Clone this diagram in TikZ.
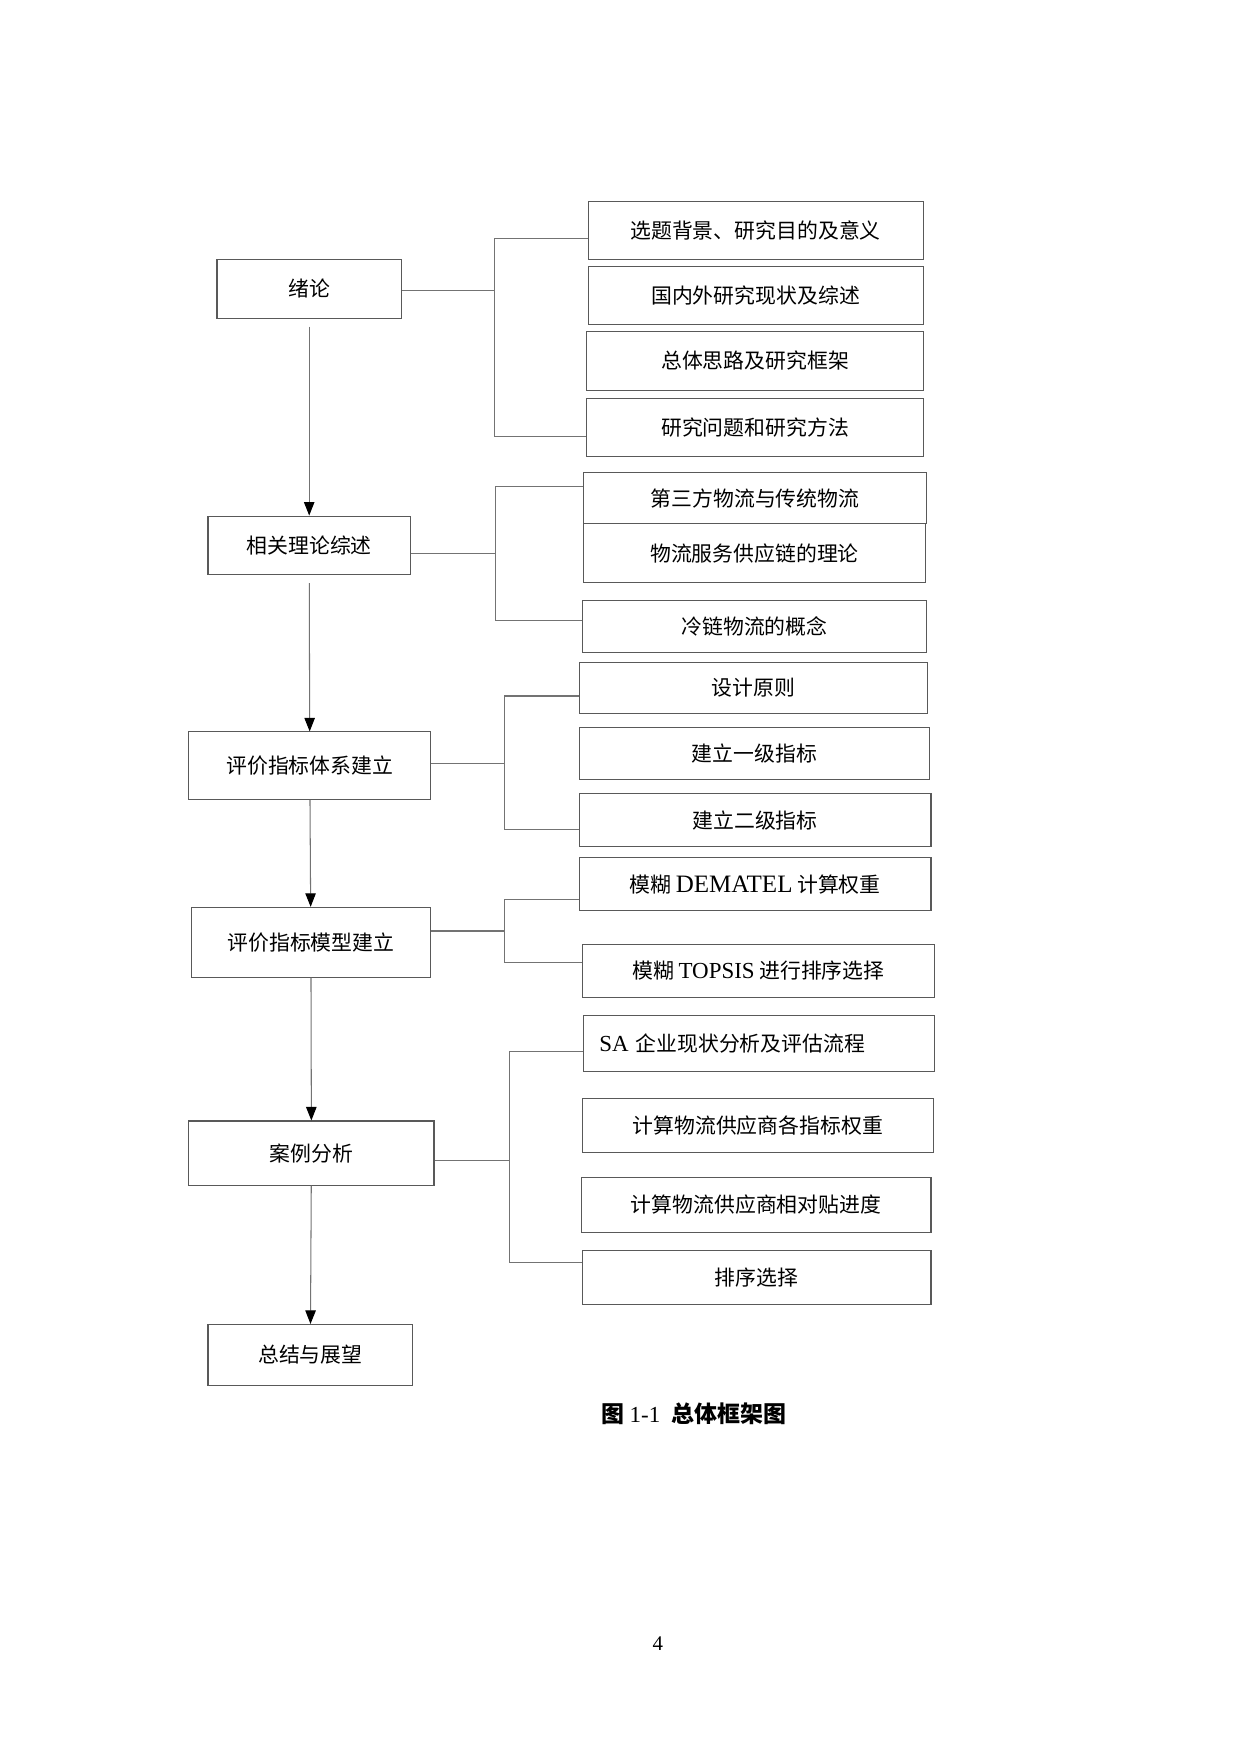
\documentclass[tikz,border=0pt]{standalone}
\usepackage{fontspec}
\setmainfont{Liberation Serif}
\newfontfamily\cjk{Noto Sans CJK SC}
\usetikzlibrary{arrows.meta}

\tikzset{every picture/.style={line width=0.5pt}}

\begin{document}
\begin{tikzpicture}[x=0.539pt,y=0.539pt,yscale=-1,xscale=1,
  box/.style 2 args={draw=black!65,inner sep=0pt,minimum width=#1*0.539pt,minimum height=#2*0.539pt,
    font=\cjk\fontsize{10}{12}\selectfont},
  link/.style={draw=black!55},
  flow/.style={draw=black!55,-{Triangle[length=6.5pt,width=5pt,color=black]}}]
\useasboundingbox (0,0) rectangle (1103,1560);

%Shape: Rectangle (main column)
\node [box={164}{52}] (xl) at (275,257) {绪论};
\node [box={180}{52}] (xg) at (275,485) {相关理论综述};
\node [box={215}{60}] (tx) at (275.5,681) {评价指标体系建立};
\node [box={213}{62}] (mx) at (276.5,838) {评价指标模型建立};
\node [box={218}{57}] (al) at (277,1025.5) {案例分析};
\node [box={182}{54}] (zj) at (276,1205) {总结与展望};

%Shape: Rectangle (right column)
\node [box={298}{52}] (a) at (672,205) {选题背景、研究目的及意义};
\node [box={298}{52}] (b) at (672,263) {国内外研究现状及综述};
\node [box={299}{52}] (c) at (671.5,321) {总体思路及研究框架};
\node [box={299}{52}] (d) at (671.5,380) {研究问题和研究方法};
\node [box={305}{46}] (e) at (671.5,443) {第三方物流与传统物流};
\node [box={304}{52}] (f) at (671,492) {物流服务供应链的理论};
\node [box={306}{46}] (g) at (671,557) {冷链物流的概念};
\node [box={310}{46}] (h) at (670,612) {设计原则};
\node [box={312}{46}] (i) at (671,670) {建立一级指标};
\node [box={313}{47}] (j) at (671.5,729.5) {建立二级指标};
\node [box={313}{47}] (k) at (671.5,786.5) {模糊 {\rmfamily\fontsize{12}{12}\selectfont DEMATEL} 计算权重};
\node [box={313}{47}] (l) at (674.5,863.5) {模糊 {\rmfamily\fontsize{11}{12}\selectfont TOPSIS} 进行排序选择};
\node [box={312}{50},text width=153pt,inner xsep=7.5pt,align=left] (m) at (675,928) {{\rmfamily\fontsize{11}{12}\selectfont SA} 企业现状分析及评估流程};
\node [box={312}{48}] (n) at (674,1001) {计算物流供应商各指标权重};
\node [box={311}{49}] (o) at (672.5,1071.5) {计算物流供应商相对贴进度};
\node [box={310}{48}] (p) at (673,1136) {排序选择};

%Straight Lines (bracket joints)
\coordinate (j1) at (440,258);
\coordinate (j2) at (441,492);
\coordinate (j3) at (449,679);
\coordinate (j4) at (449,828);
\coordinate (j5) at (453,1032);

\draw [link] (xl.east |- j1) -- (j1);
\draw [link] ([yshift=3.77pt]a.west) -| (j1) |- ([yshift=4.31pt]d.west);
\draw [link] (xg.east |- j2) -- (j2);
\draw [link] ([yshift=-5.39pt]e.west) -| (j2) |- ([yshift=-2.7pt]g.west);
\draw [link] (tx.east |- j3) -- (j3);
\draw [link] ([yshift=3.77pt]h.west) -| (j3) |- ([yshift=4.58pt]j.west);
\draw [link] (mx.east |- j4) -- (j4);
\draw [link] ([yshift=7.28pt]k.west) -| (j4) |- ([yshift=-4.04pt]l.west);
\draw [link] (al.east |- j5) -- (j5);
\draw [link] ([yshift=3.77pt]m.west) -| (j5) |- ([yshift=-7.01pt]p.west);

%Straight Lines (arrows)
\draw [flow,shorten <=3.8pt] (xl) -- (xg);
\draw [flow,shorten <=3.8pt] (xg) -- (tx);
\draw [flow] (tx) -- (mx);
\draw [flow] (mx) -- (al);
\draw [flow] (al) -- (zj);

% Text Node
\node [inner sep=0pt] (cap) at (617,1257) {{\cjk\bfseries\fontsize{11}{13}\selectfont 图}\fontsize{11}{13}\selectfont\ 1-1\ \ {\cjk\bfseries\fontsize{11}{13}\selectfont 总体框架图}};
% Text Node
\node [inner sep=0pt,font=\fontsize{10}{12}\selectfont] (pg) at (585,1462) {4};

\end{tikzpicture}
\end{document}
